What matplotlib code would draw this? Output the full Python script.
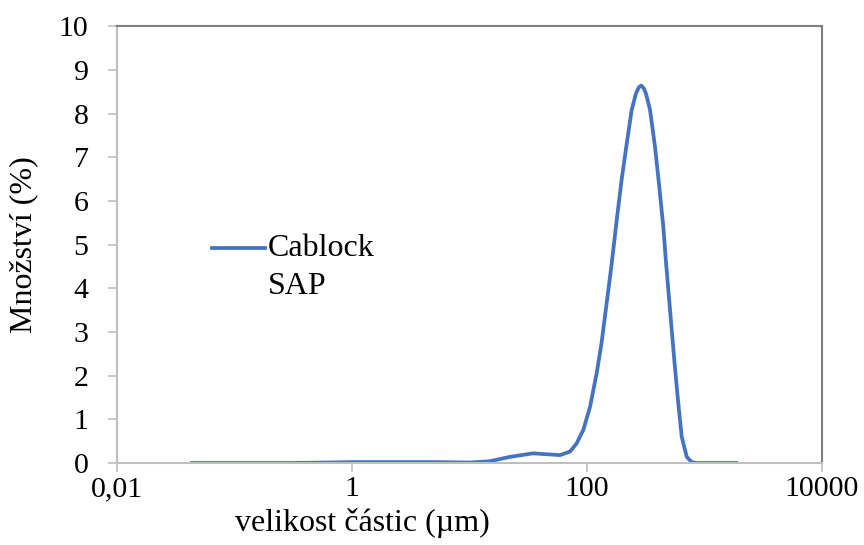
import matplotlib.pyplot as plt
import numpy as np

# particle size distribution
size_um = [0.042, 0.1, 0.3, 0.6, 1.0, 2.0, 5.0, 10.1, 14.9, 22.1, 34.7, 45.4,
           58.9, 71.6, 81.7, 93.1, 106, 121, 133, 147, 162, 179, 197, 218,
           240, 261, 276, 290, 304, 318, 344, 379, 412, 446, 470, 509, 553,
           598, 640, 706, 778, 859, 1000, 1930]
amount_pct = [0.0, 0.0, 0.0, 0.01, 0.02, 0.02, 0.02, 0.01, 0.04, 0.14, 0.22,
              0.2, 0.18, 0.26, 0.45, 0.76, 1.28, 2.06, 2.75, 3.66, 4.55, 5.56,
              6.48, 7.32, 8.08, 8.46, 8.6, 8.64, 8.58, 8.45, 8.08, 7.24, 6.33,
              5.41, 4.6, 3.5, 2.36, 1.37, 0.6, 0.14, 0.02, 0.0, 0.0, 0.0]

xticks = [0.01, 1, 100, 10000]
xtick_labels = ["0,01", "1", "100", "10000"]
yticks = list(range(0, 11))

plt.rcParams["font.family"] = ["Liberation Serif", "DejaVu Serif"]

fig = plt.figure(figsize=(8.64, 5.45), dpi=100)
ax = fig.add_axes([0.1354, 0.1505, 0.8160, 0.8015])

line_color = "#4472C4"
ax.plot(size_um, amount_pct, color=line_color, linewidth=2.7,
        solid_joinstyle="round", solid_capstyle="butt")

ax.set_xscale("log")
ax.set_xlim(0.01, 10000)
ax.set_ylim(0, 10)
ax.set_xticks(xticks)
ax.set_xticklabels(xtick_labels)
ax.xaxis.set_minor_locator(plt.NullLocator())
ax.set_yticks(yticks)

ax.tick_params(axis="both", labelsize=21.5, colors="#BFBFBF", labelcolor="black",
               length=6.5, width=1.2, direction="out")
ax.tick_params(axis="x", pad=3)
ax.tick_params(axis="y", pad=14)

for side in ["left", "bottom"]:
    ax.spines[side].set_color("#BFBFBF")
    ax.spines[side].set_linewidth(1.5)
for side in ["top", "right"]:
    ax.spines[side].set_color("#808080")
    ax.spines[side].set_linewidth(1.5)

ax.set_xlabel("velikost částic (µm)", fontsize=23)
ax.xaxis.set_label_coords(0.348, -0.102)
ax.set_ylabel("Množství (%)", fontsize=23)
ax.yaxis.set_label_coords(-0.112, 0.5)

# legend drawn by hand so the label can wrap over two lines
ax.plot([0.1348, 0.2099], [0.492, 0.492], color=line_color, linewidth=2.7,
        transform=ax.transAxes, clip_on=False)
ax.text(0.214, 0.492, "Cablock", fontsize=23, va="center", ha="left",
        transform=ax.transAxes)
ax.text(0.214, 0.405, "SAP", fontsize=23, va="center", ha="left",
        transform=ax.transAxes)

fig.savefig("out.png", dpi=100)
